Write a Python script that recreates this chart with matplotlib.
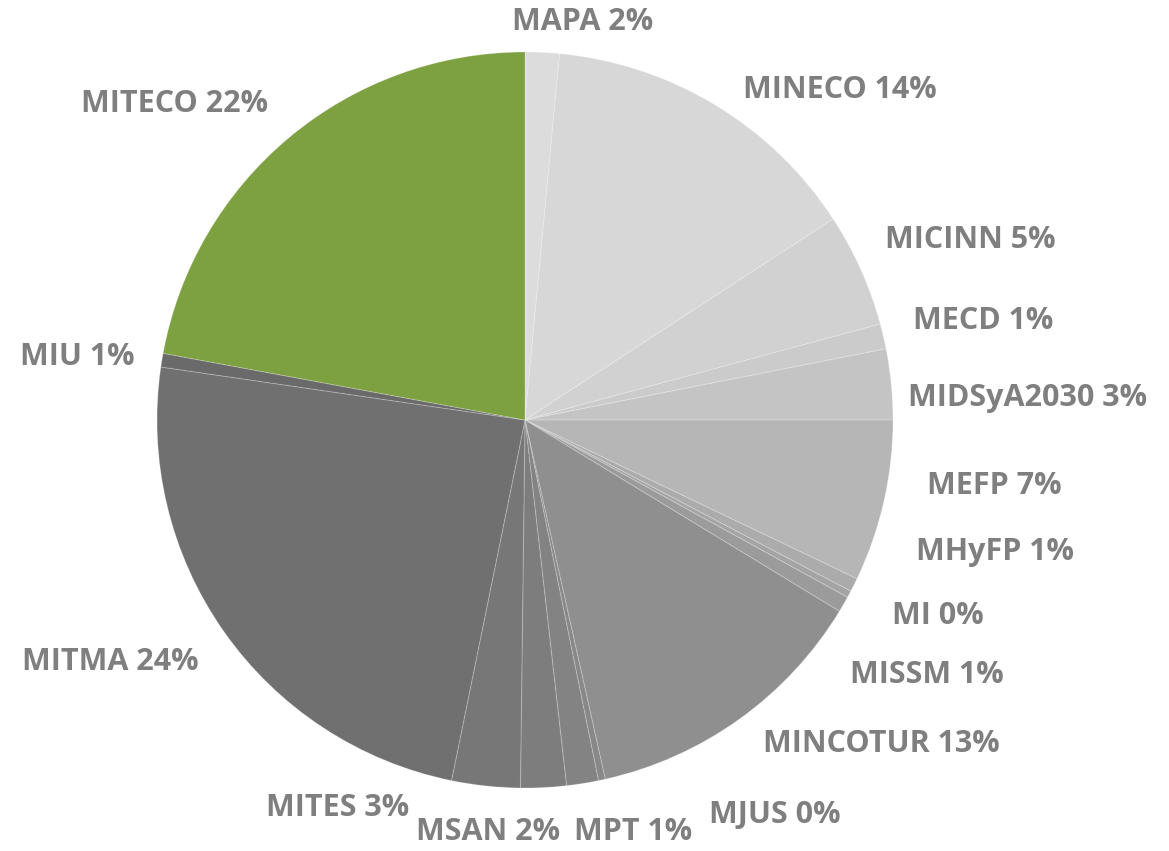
import matplotlib
matplotlib.use("Agg")
import matplotlib.pyplot as plt

categories = ["MAPA", "MINECO", "MICINN", "MECD", "MIDSyA2030", "MEFP", "MHyFP", "MI",
              "MISSM", "MINCOTUR", "MJUS", "MPT", "MSAN", "MITES", "MITMA", "MIU", "MITECO"]
values = [1.5, 14.3, 5.0, 1.1, 3.1, 7.1, 0.6, 0.3, 0.7, 12.8, 0.3, 1.4, 2.0, 3.0, 24.1, 0.6, 22.1]
colors = ["#dcdcdc", "#d7d7d7", "#d1d1d1", "#cbcbcb", "#c4c4c4", "#b6b6b6", "#ababab", "#a4a4a4",
          "#9b9b9b", "#8f8f8f", "#888888", "#838383", "#7d7d7d", "#777777", "#707070", "#6a6a6a",
          "#7da041"]

# label centre positions (pixels in the 1169x851 canvas)
label_px = [(583, 22), (840, 90), (970, 240), (983, 321), (1028, 398), (994, 486), (995, 552),
            (938, 616), (927, 675), (881, 744), (775, 815), (633, 832), (488, 832), (338, 808),
            (110, 662), (77, 357), (175, 104)]

W, H = 1169, 851
cx, cy, R = 525, 420, 368

fig = plt.figure(figsize=(W / 100, H / 100), dpi=100)
ax = fig.add_axes([0, 0, 1, 1])
ax.pie(values, colors=colors, startangle=90, counterclock=False, radius=1,
       wedgeprops=dict(edgecolor=(1, 1, 1, 0.2), linewidth=0.8))
ax.set_xlim(-cx / R, (W - cx) / R)
ax.set_ylim(-(H - cy) / R, cy / R)
ax.set_aspect("equal")
ax.axis("off")

total = sum(values)
for name, v, (px, py) in zip(categories, values, label_px):
    pct = round(v / total * 100)
    ax.text((px - cx) / R, (cy - py) / R, f"{name} {pct}%", ha="center", va="center",
            fontsize=22, fontweight="bold", color="#7f7f7f", family=["Open Sans", "DejaVu Sans"])

fig.savefig("out.png", dpi=100)
